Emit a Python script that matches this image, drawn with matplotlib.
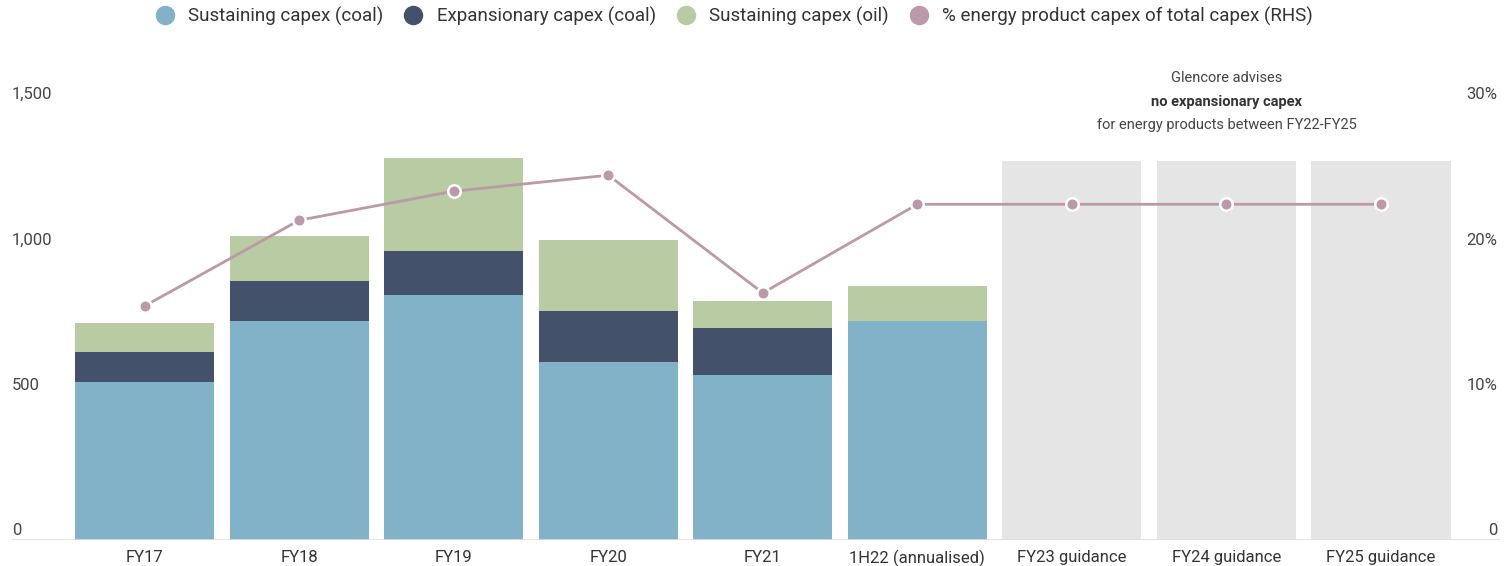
import matplotlib
matplotlib.use("Agg")
import matplotlib.pyplot as plt
from matplotlib.lines import Line2D
import numpy as np

plt.rcParams["font.family"] = ["Roboto", "DejaVu Sans"]

categories = ["FY17", "FY18", "FY19", "FY20", "FY21", "1H22 (annualised)",
              "FY23 guidance", "FY24 guidance", "FY25 guidance"]
sustaining_coal = [543, 753, 843, 612, 568, 753, 0, 0, 0]
expansionary_coal = [104, 138, 150, 176, 161, 0, 0, 0, 0]
sustaining_oil = [99, 155, 321, 244, 93, 121, 0, 0, 0]
guidance_total = [0, 0, 0, 0, 0, 0, 1304, 1304, 1304]
energy_share = [16.1, 22.0, 24.0, 25.1, 17.0, 23.1, 23.1, 23.1, 23.1]

left_ticks = [0, 500, 1000, 1500]
right_ticks = [0, 10, 20, 30]

C_SUST = "#82b2c7"
C_EXP = "#43526a"
C_OIL = "#b9cba2"
C_LINE = "#bc99a6"
C_GUIDE = "#e5e5e5"
C_TEXT = "#444444"

fig = plt.figure(figsize=(15.04, 5.66), dpi=100)
ax = fig.add_axes([12 / 1504, 26 / 566, 1488 / 1504, 436 / 566])

x = np.arange(len(categories))
w = 0.9
sc = np.array(sustaining_coal)
ec = np.array(expansionary_coal)
oc = np.array(sustaining_oil)

ax.bar(x, guidance_total, w, color=C_GUIDE, zorder=1)
ax.bar(x, sc, w, color=C_SUST, zorder=2)
ax.bar(x, ec, w, bottom=sc, color=C_EXP, zorder=2)
ax.bar(x, oc, w, bottom=sc + ec, color=C_OIL, zorder=2)

ax.set_xlim(-0.858, 8.77)
ax.set_ylim(0, 1500)

ax2 = ax.twinx()
ax2.set_ylim(0, 30)
ax2.plot(x, energy_share, color=C_LINE, lw=2, marker="o", ms=9,
         mfc=C_LINE, mec="white", mew=1.8, zorder=5, clip_on=False)

for a in (ax, ax2):
    for s in a.spines.values():
        s.set_visible(False)
    a.set_yticks([])
    a.tick_params(length=0)

ax.axhline(0, color="#dddddd", lw=1.2, zorder=3)

# axis labels sit just above their gridline positions
for v in left_ticks:
    ax.text(0, v + 6, f"{v:,}", transform=ax.get_yaxis_transform(),
            ha="left", va="bottom", fontsize=12, color=C_TEXT)
for v in right_ticks:
    ax2.text(0.998, v + 0.12, "0" if v == 0 else f"{v}%",
             transform=ax2.get_yaxis_transform(),
             ha="right", va="bottom", fontsize=12, color=C_TEXT)

ax.set_xticks(x)
ax.set_xticklabels(categories, fontsize=12, color="#333333")
ax.tick_params(axis="x", pad=7)

ax.text(7, 1428, "for energy products between FY22-FY25", ha="center",
        va="center", fontsize=10.5, color="#444444")
ax.text(7, 1507, "no expansionary capex", ha="center", va="center",
        fontsize=10.5, fontweight="bold", color="#333333")
ax.text(7, 1589, "Glencore advises", ha="center", va="center",
        fontsize=10.5, color="#444444")

handles = [
    Line2D([], [], ls="", marker="o", ms=13, color=C_SUST),
    Line2D([], [], ls="", marker="o", ms=13, color=C_EXP),
    Line2D([], [], ls="", marker="o", ms=13, color=C_OIL),
    Line2D([], [], ls="", marker="o", ms=13, color=C_LINE),
]
labels = ["Sustaining capex (coal)", "Expansionary capex (coal)",
          "Sustaining capex (oil)", "% energy product capex of total capex (RHS)"]
fig.legend(handles, labels, loc="center", bbox_to_anchor=(0.485, 1 - 16 / 566),
           ncol=4, frameon=False, fontsize=13.5, handletextpad=0.25,
           columnspacing=0.6, labelcolor="#333333")

fig.savefig("out.png", dpi=100)
